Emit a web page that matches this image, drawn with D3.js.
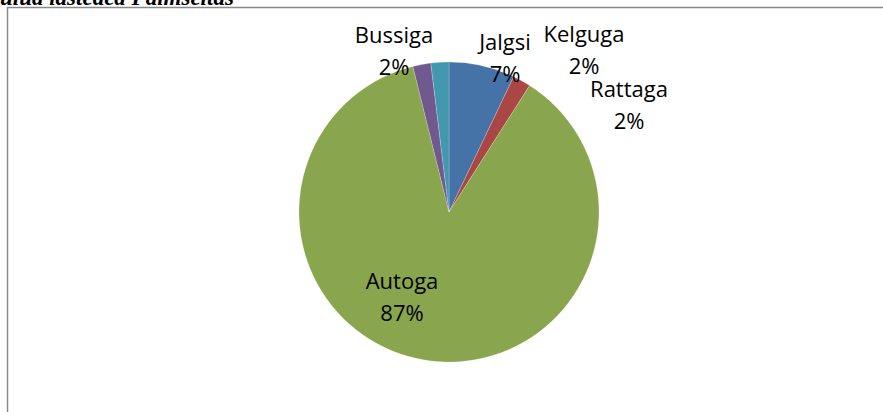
<!DOCTYPE html>
<html>
<head>
<meta charset="utf-8">
<script src="https://cdn.jsdelivr.net/npm/d3@7"></script>
<style>
  html, body { margin: 0; padding: 0; background: #fff; overflow: hidden; }
  svg { display: block; }
</style>
</head>
<body>
<script>
// pie data (slice order clockwise from 12 o'clock)
var categories = ['Jalgsi', 'Kelguga', 'Autoga', 'Bussiga', 'Rattaga'];
var counts = [11, 3, 135, 3, 3];
var percentLabels = ['7%', '2%', '87%', '2%', '2%'];
var sliceColors = ['#4572A7', '#AA4643', '#89A54E', '#71588F', '#4198AF'];

// label anchor points relative to pie centre (labels were hand-placed in the source)
var labelOffsets = [[56, -162], [135, -170], [-47, 77], [-55, -169], [180, -115]];

var W = 883, H = 412;
var cx = 449, cy = 212, radius = 150;

var svg = d3.select('body').append('svg').attr('width', W).attr('height', H);

// clipped caption line from the page above
svg.append('text')
  .attr('x', 0).attr('y', 5)
  .attr('font-family', '"Liberation Serif", serif')
  .attr('font-style', 'italic')
  .attr('font-weight', 'bold')
  .attr('font-size', 23)
  .attr('fill', '#000')
  .text('ulud lasteaed Palmseltas');

// chart frame
svg.append('rect')
  .attr('x', 7.5).attr('y', 7.5)
  .attr('width', W).attr('height', H)
  .attr('fill', 'none')
  .attr('stroke', '#8a8a8a')
  .attr('stroke-width', 1.5);

var pie = d3.pie().sort(null).value(function(d) { return d; });
var arcs = pie(counts);
var arc = d3.arc().innerRadius(0).outerRadius(radius);

var g = svg.append('g').attr('transform', 'translate(' + cx + ',' + cy + ')');

g.selectAll('path').data(arcs).join('path')
  .attr('d', arc)
  .attr('fill', function(d, i) { return sliceColors[i]; })
  .attr('stroke', '#ffffff')
  .attr('stroke-opacity', 0.35)
  .attr('stroke-width', 0.6);

var labels = g.selectAll('text.lbl').data(arcs).join('text')
  .attr('class', 'lbl')
  .attr('text-anchor', 'middle')
  .attr('font-family', '"Open Sans", sans-serif')
  .attr('font-size', 22)
  .attr('fill', '#000')
  .attr('transform', function(d, i) {
    return 'translate(' + labelOffsets[i][0] + ',' + labelOffsets[i][1] + ')';
  });

labels.append('tspan').attr('x', 0).attr('y', 0)
  .text(function(d, i) { return categories[i]; });
labels.append('tspan').attr('x', 0).attr('y', 32)
  .text(function(d, i) { return percentLabels[i]; });
</script>
</body>
</html>
